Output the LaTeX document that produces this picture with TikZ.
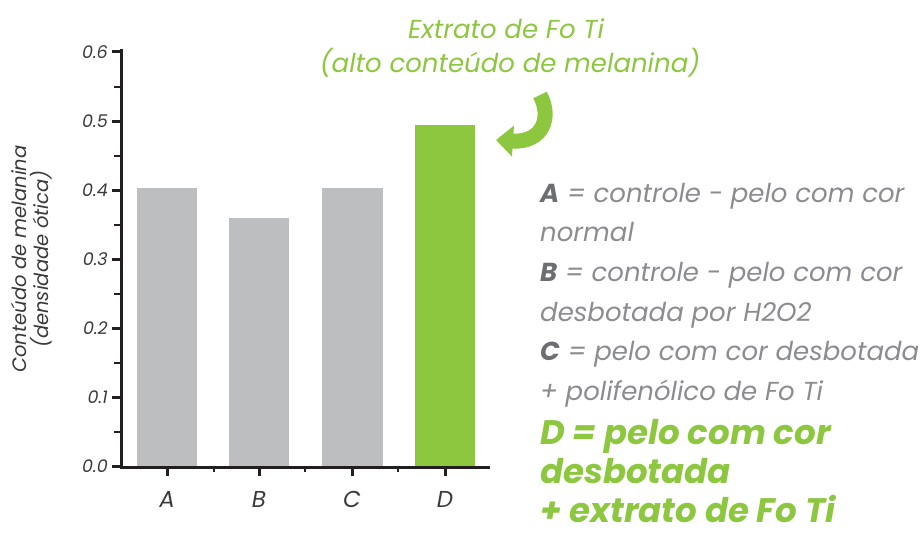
\documentclass[tikz,border=0pt]{standalone}
\usepackage{fontspec}
\setmainfont{Poppins}
\usetikzlibrary{arrows.meta}
\definecolor{axisc}{HTML}{231F20}
\definecolor{barg}{HTML}{BCBEC0}
\definecolor{barv}{HTML}{8DC63F}
\definecolor{legg}{HTML}{8A8C8F}
\definecolor{legd}{HTML}{6D6E71}
\definecolor{labc}{HTML}{3A3A3C}
\tikzset{
  axisline/.style={line width=3pt,draw=axisc},
  majtick/.style={line width=3pt,draw=axisc},
  mintick/.style={line width=2pt,draw=axisc},
  graybar/.style={fill=barg,draw=none},
  greenbar/.style={fill=barv,draw=none},
  ticklab/.style={anchor=east,text=labc,font=\fontsize{17.5}{20}\selectfont\itshape,inner sep=0pt},
  catlab/.style={anchor=base,text=labc,font=\fontsize{23}{26}\selectfont\itshape,inner sep=0pt},
  legtext/.style={anchor=base west,text=legg,font=\fontsize{26}{30}\selectfont\itshape,inner sep=0pt},
  legbold/.style={anchor=base west,text=barv,font=\fontsize{34}{38}\selectfont\bfseries\itshape,inner sep=0pt,text depth=0pt},
  titletext/.style={anchor=base,text=barv,font=\fontsize{26}{30}\selectfont\itshape,inner sep=0pt},
}
\begin{document}
\begin{tikzpicture}[x=1pt,y=-1pt]
\useasboundingbox (0,0) rectangle (920,535);
% bars
\fill[graybar] (137,466) rectangle (197,188);
\fill[graybar] (229,466) rectangle (289,218);
\fill[graybar] (322,466) rectangle (383,188);
\fill[greenbar] (415,466) rectangle (475,125);
% axes
\coordinate (o) at (121,467);
\coordinate (ytop) at (121,49);
\coordinate (xend) at (490,467);
\draw[axisline,line cap=butt] (ytop) -- (o) -- (xend);
% y ticks
\foreach \v/\t in {0/0.0,1/0.1,2/0.2,3/0.3,4/0.4,5/0.5,6/0.6}{
  \draw[majtick] (112,466-69*\v) -- (121,466-69*\v);
  \node[ticklab] at (108,466-69*\v) {\t};
}
\foreach \v in {0.5,1.5,2.5,3.5,4.5,5.5}{
  \draw[mintick] (114,466-69*\v) -- (121,466-69*\v);
}
% x ticks
\foreach \x/\l in {167/A,259/B,352/C,445/D}{
  \draw[majtick] (\x,467) -- (\x,476);
  \node[catlab] at (\x,507) {\l};
}
\foreach \x in {214,305,398}{
  \draw[mintick] (\x,467) -- (\x,472);
}
% y label
\node[rotate=90,align=center,text=labc,font=\fontsize{19.5}{22}\selectfont\itshape,inner sep=0pt] (ylab) at (32,259) {Conteúdo de melanina\\(densidade ótica)};
% title
\node[titletext] (t1) at (506,38) {Extrato de Fo Ti};
\node[titletext] (t2) at (510,73) {(alto conteúdo de melanina)};
% curved arrow
\coordinate (as) at (540,95);
\coordinate (ae) at (496,140);
\draw[barv,line width=15pt,-{Triangle[length=17pt,width=30pt]}] (as) .. controls (552,117) and (543,143) .. (ae);
% legend
\node[legtext] (l1) at (540,202) {\textcolor{legd}{\textbf{A}} = controle - pelo com cor};
\node[legtext] (l2) at (540,241.5) {normal};
\node[legtext] (l3) at (540,281) {\textcolor{legd}{\textbf{B}} = controle - pelo com cor};
\node[legtext] (l4) at (540,321) {desbotada por H2O2};
\node[legtext] (l5) at (540,360.5) {\textcolor{legd}{\textbf{C}} = pelo com cor desbotada};
\node[legtext] (l6) at (540,400) {+ polifenólico de Fo Ti};
\node[legbold] (g1) at (540,444) {D = pelo com cor};
\node[legbold] (g2) at (540,483) {desbotada};
\node[legbold] (g3) at (540,522) {+ extrato de Fo Ti};
\end{tikzpicture}
\end{document}
